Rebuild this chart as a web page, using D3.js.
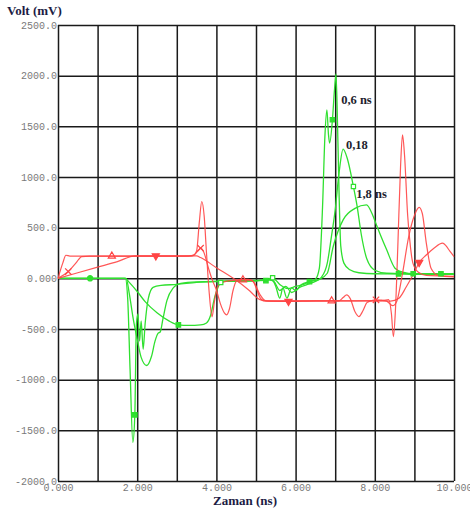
<!DOCTYPE html>
<html><head><meta charset="utf-8">
<script src="https://cdn.jsdelivr.net/npm/d3@7"></script>
<style>body{margin:0;background:#fff}</style>
</head><body><svg id="c" width="470" height="512"></svg>
<script>
// ---------- data (time in ns, voltage in mV) ----------
const timeTicks = [0,1,2,3,4,5,6,7,8,9,10];
const timeLabels = ["0.000","","2.000","","4.000","","6.000","","8.000","","10.000"];
const voltTicks = [2500,2000,1500,1000,500,0,-500,-1000,-1500,-2000];
const voltLabels = ["2500.0","2000.0","1500.0","1000.0","500.0","0.000","-500.0","-1000.0","-1500.0","-2000.0"];

// red curves (near end)
const redFast = [[0,0],[0.12,150],[0.2,228],[0.3,220],[1,220],[1.36,220],[2,220],[3,220],[3.4,222],[3.5,270],[3.57,560],[3.63,758],[3.69,620],[3.75,250],[3.82,-150],[3.89,-380],[3.95,-230],[4.02,-90],[4.1,-50],[4.3,-25],[4.67,-15],[4.9,-20],[5.0,-90],[5.1,-190],[5.2,-222],[5.5,-222],[6.91,-222],[7.5,-222],[8.2,-220],[8.35,-210],[8.42,-350],[8.47,-575],[8.52,-320],[8.58,300],[8.65,1100],[8.7,1417],[8.75,1220],[8.83,620],[8.9,310],[8.96,153],[9.1,60],[9.3,30],[10,20]];
const redMedium = [[0,0],[0.26,67],[0.45,150],[0.6,215],[0.8,220],[2,220],[3.3,220],[3.45,235],[3.55,280],[3.6,298],[3.68,260],[3.8,100],[3.9,-20],[4.0,-115],[4.1,-250],[4.2,-340],[4.26,-360],[4.33,-300],[4.42,-120],[4.5,-30],[4.6,-10],[4.8,-10],[4.95,-40],[5.1,-160],[5.25,-222],[5.5,-225],[7.1,-222],[7.2,-190],[7.29,-163],[7.38,-200],[7.5,-330],[7.6,-377],[7.7,-320],[7.8,-240],[7.9,-222],[8.03,-212],[8.15,-215],[8.3,-225],[8.45,-270],[8.55,-230],[8.7,50],[8.85,400],[9.0,620],[9.12,700],[9.2,640],[9.3,350],[9.42,100],[9.6,30],[10,15]];
const redSlow = [[0,0],[0.5,55],[1.0,110],[1.5,165],[1.95,222],[2.47,222],[3.0,222],[3.5,222],[3.6,205],[4.0,105],[4.5,-20],[4.8,-110],[5.1,-210],[5.3,-225],[5.82,-228],[6.5,-222],[7,-222],[8,-222],[8.4,-225],[8.6,-200],[8.8,-80],[9.0,60],[9.12,156],[9.3,230],[9.5,300],[9.71,347],[9.8,320],[9.9,265],[10,215]];

// green curves (far end)
const greenFast = [[0,0],[0.81,0],[1.7,0],[1.76,-200],[1.82,-900],[1.89,-1620],[1.94,-1347],[1.98,-450],[2.02,-350],[2.06,-620],[2.1,-420],[2.15,-700],[2.2,-450],[2.28,-200],[2.4,-90],[2.6,-70],[3.0,-60],[3.5,-40],[4.0,-30],[4.5,-25],[5.0,-20],[5.25,-22],[5.4,-15],[5.5,-80],[5.6,-195],[5.68,-97],[5.78,-195],[5.9,-95],[6.0,-120],[6.15,-60],[6.35,-32],[6.5,-10],[6.6,100],[6.68,700],[6.74,1400],[6.79,1663],[6.83,1420],[6.86,1335],[6.93,1565],[6.98,1850],[7.02,2018],[7.06,1500],[7.1,800],[7.14,320],[7.22,150],[7.37,84],[7.6,55],[8,45],[8.6,44],[9,40],[10,45]];
const greenMedium = [[0,0],[1.72,0],[1.8,-150],[1.9,-400],[2.0,-600],[2.1,-780],[2.24,-860],[2.36,-772],[2.45,-620],[2.53,-541],[2.58,-530],[2.65,-400],[2.75,-220],[2.9,-100],[3.1,-50],[3.5,-35],[4.2,-30],[5.0,-25],[5.3,-10],[5.45,-30],[5.6,-120],[5.75,-80],[5.9,-140],[6.1,-90],[6.3,-60],[6.5,-30],[6.65,10],[6.8,150],[6.9,400],[7.0,676],[7.1,1050],[7.2,1275],[7.3,1190],[7.46,906],[7.55,720],[7.66,430],[7.8,190],[8.0,80],[8.3,50],[8.97,45],[10,40]];
const greenSlow = [[0,0],[1.7,0],[1.8,-40],[2.0,-130],[2.2,-230],[2.5,-340],[2.8,-420],[3.04,-459],[3.3,-465],[3.6,-460],[3.75,-440],[3.85,-370],[3.96,-180],[4.05,-80],[4.11,-41],[4.3,-25],[4.8,-25],[5.2,-20],[5.42,5],[5.6,-60],[5.8,-100],[6.0,-80],[6.2,-60],[6.36,-32],[6.6,-10],[6.8,50],[6.95,314],[7.2,577],[7.5,690],[7.79,725],[7.95,620],[8.04,528],[8.15,420],[8.3,281],[8.51,100],[8.7,60],[9,45],[9.67,45],[10,45]];

// markers
const redTriUp = [[1.36,220],[4.67,-15],[6.91,-222]];
const redTriDown = [[2.47,222],[5.82,-228],[9.12,156]];
const redCross = [[0.26,67],[3.6,298],[8.03,-212]];
const greenSquares = [[1.94,-1347],[3.04,-459],[5.25,-22],[6.35,-32],[6.93,1565],[8.6,44],[8.97,45],[9.67,45]];
const greenOpen = [[4.11,-41],[5.42,5],[7.46,906]];
const greenDots = [[0.81,0]];

const annotations = [{t:7.15,v:1720,text:"0,6 ns"},{t:7.27,v:1275,text:"0,18"},{t:7.53,v:790,text:"1,8 ns"}];

// ---------- drawing ----------
const svg = d3.select("#c");
const x = d3.scaleLinear().domain([0,10]).range([58,454]);
const y = d3.scaleLinear().domain([-2000,2500]).range([481,25]);

const gx = svg.append("g").attr("transform","translate(0,481)")
  .call(d3.axisBottom(x).tickValues(timeTicks).tickSize(-456).tickPadding(2.5)
    .tickFormat((d,i)=>timeLabels[i]));
const gy = svg.append("g").attr("transform","translate(58,0)")
  .call(d3.axisLeft(y).tickValues(voltTicks).tickSize(-396).tickPadding(1)
    .tickFormat((d,i)=>voltLabels[i]));
[gx,gy].forEach(g=>{
  g.select(".domain").remove();
  g.selectAll(".tick line").attr("stroke","#1a1a1a").attr("stroke-width",1.5);
  g.selectAll(".tick text").attr("fill","#7a7a7a")
    .style("font-family","'Liberation Mono','DejaVu Sans Mono',monospace")
    .style("font-size","10px");
});

const line = d3.line().x(d=>x(d[0])).y(d=>y(d[1])).curve(d3.curveMonotoneX);
const greenCol = "#2fe02f", redCol = "#ff4545";
[greenSlow,greenMedium,greenFast].forEach(s=>{
  svg.append("path").datum(s).attr("d",line).attr("fill","none")
    .attr("stroke",greenCol).attr("stroke-width",1.3).attr("stroke-linejoin","round");
});
[redSlow,redMedium,redFast].forEach(s=>{
  svg.append("path").datum(s).attr("d",line).attr("fill","none")
    .attr("stroke",redCol).attr("stroke-width",1.2).attr("stroke-opacity",0.9).attr("stroke-linejoin","round");
});

function marks(data,type,size,fill,stroke,rot){
  svg.append("g").selectAll("path").data(data).join("path")
    .attr("d",d3.symbol().type(type).size(size))
    .attr("transform",d=>`translate(${x(d[0])},${y(d[1])}) rotate(${rot||0})`)
    .attr("fill",fill).attr("stroke",stroke).attr("stroke-width",1.2);
}
const timesSym = d3.symbolTimes || d3.symbolCross;
marks(redTriUp,d3.symbolTriangle,22,"none",redCol,0);
marks(redTriDown,d3.symbolTriangle,22,redCol,redCol,180);
marks(redCross,timesSym,28,"none",redCol,d3.symbolTimes?0:45);
marks(greenSquares,d3.symbolSquare,20,greenCol,greenCol,0);
marks(greenOpen,d3.symbolSquare,18,"#fff",greenCol,0);
marks(greenDots,d3.symbolCircle,22,greenCol,greenCol,0);

svg.append("g").selectAll("text").data(annotations).join("text")
  .attr("x",d=>x(d.t)).attr("y",d=>y(d.v))
  .attr("fill","#1e1e2e")
  .style("font-family","'Liberation Serif','DejaVu Serif',serif")
  .style("font-weight","bold").style("font-size","12.5px")
  .text(d=>d.text);

svg.append("text").attr("x",7).attr("y",15).text("Volt (mV)")
  .attr("fill","#1c1c44")
  .style("font-family","'Liberation Serif','DejaVu Serif',serif")
  .style("font-weight","bold").style("font-size","13px");
svg.append("text").attr("x",245).attr("y",505).attr("text-anchor","middle").text("Zaman (ns)")
  .attr("fill","#1c1c44")
  .style("font-family","'Liberation Serif','DejaVu Serif',serif")
  .style("font-weight","bold").style("font-size","13px");
</script></body></html>
